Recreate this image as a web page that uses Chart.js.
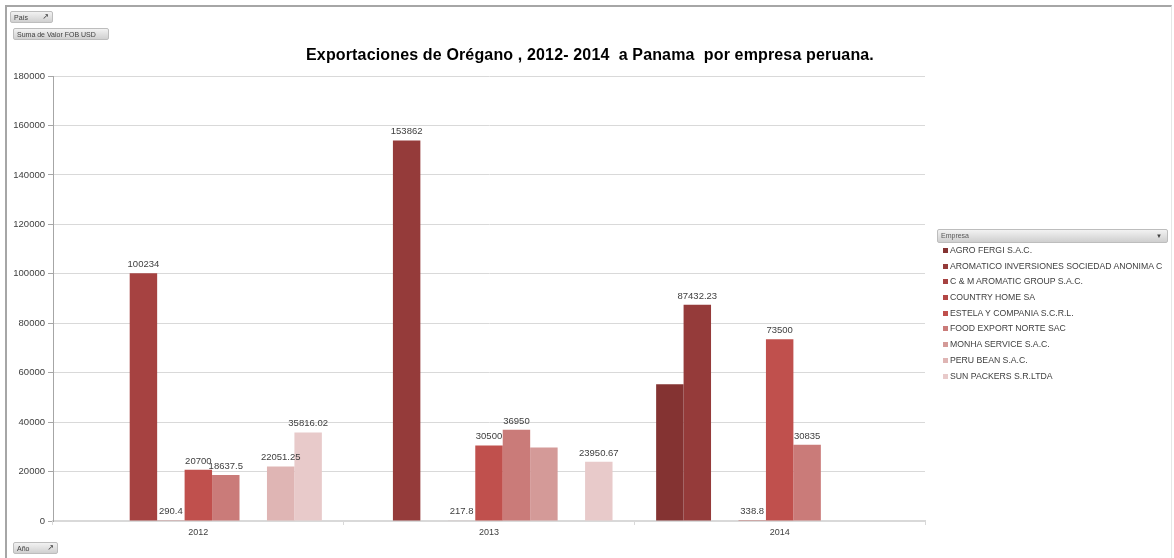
<!DOCTYPE html>
<html lang="es">
<head>
<meta charset="UTF-8">
<title>Exportaciones de Orégano</title>
<script src="https://cdn.jsdelivr.net/npm/chart.js@4"></script>
<style>
  html, body { margin: 0; padding: 0; background: #fff; }
  body { width: 1174px; height: 558px; position: relative; overflow: hidden; font-family: "Liberation Sans", "DejaVu Sans", sans-serif; }
  .frame { position: absolute; left: 5px; top: 5px; width: 1167px; height: 560px; border-left: 2px solid #a6a6a6; border-top: 2px solid #a6a6a6; border-right: 1px solid #e6e6e6; box-sizing: border-box; }
  #chart { position: absolute; left: 0; top: 0; }
  .title { position: absolute; left: 0; width: 1180px; top: 46px; text-align: center; font-weight: bold; font-size: 16px; letter-spacing: 0.15px; color: #000; white-space: pre; }
  .btn { position: absolute; height: 12px; line-height: 12px; font-size: 7px; color: #404040; border-radius: 2px;
         background: linear-gradient(#f2f2f2, #d0d0d0); border: 1px solid #bdbdbd; padding: 0 3px; box-sizing: border-box; }
  .btn .ico { position: absolute; right: 3px; top: -1px; font-size: 8px; }
  .legend { position: absolute; left: 937px; top: 229px; width: 231px; }
  .legend .head { position: relative; height: 12px; line-height: 12px; font-size: 7px; color: #595959; border-radius: 2px;
                  background: linear-gradient(#f2f2f2, #cfcfcf); border: 1px solid #bdbdbd; padding-left: 3px; }
  .legend .head .arr { position: absolute; right: 5px; top: 0; font-size: 6px; color: #404040; }
  .legend .item { position: relative; height: 15.7px; line-height: 15.7px; font-size: 8.7px; color: #404040; padding-left: 13px; white-space: nowrap; }
  .legend .item:first-of-type { margin-top: 3px; }
  .legend .sw { position: absolute; left: 6px; top: 5px; width: 5px; height: 5px; }
</style>
</head>
<body>
<div class="frame"></div>
<canvas id="chart" width="1174" height="558"></canvas>
<div class="title">Exportaciones de Orégano , 2012- 2014  a Panama  por empresa peruana.</div>
<div class="btn" style="left:10px;top:11px;width:43px;">País<span class="ico">&#8599;</span></div>
<div class="btn" style="left:13px;top:28px;width:96px;">Suma de Valor FOB USD</div>
<div class="btn" style="left:13px;top:542px;width:45px;">Año<span class="ico">&#8599;</span></div>
<div class="legend" id="legend"><div class="head">Empresa<span class="arr">&#9660;</span></div></div>

<script>
// Años (categorías)
const years = ['2012', '2013', '2014'];

// Empresas (series)
const companies = [
  'AGRO FERGI S.A.C.',
  'AROMATICO INVERSIONES SOCIEDAD ANONIMA C',
  'C & M AROMATIC GROUP S.A.C.',
  'COUNTRY HOME SA',
  'ESTELA Y COMPANIA S.C.R.L.',
  'FOOD EXPORT NORTE SAC',
  'MONHA SERVICE S.A.C.',
  'PERU BEAN S.A.C.',
  'SUN PACKERS S.R.LTDA'
];

// Suma de Valor FOB USD por empresa, en el orden de years
const agroFergi   = [null, null, 55300];
const aromatico   = [null, 153862, 87432.23];
const cmAromatic  = [100234, null, null];
const countryHome = [290.4, 217.8, 338.8];
const estela      = [20700, 30500, 73500];
const foodExport  = [18637.5, 36950, 30835];
const monha       = [null, 29700, null];
const peruBean    = [22051.25, null, null];
const sunPackers  = [35816.02, 23950.67, null];

// Etiquetas de datos que el original no muestra
const hiddenLabels = [[0, 2], [6, 1]]; // [serie, año]

const seriesValues = [agroFergi, aromatico, cmAromatic, countryHome, estela, foodExport, monha, peruBean, sunPackers];

const colors = ['#843332', '#953b3a', '#a64241', '#b34745', '#c0504d', '#ca7b79', '#d49a98', '#dfb5b4', '#e8caca'];

// y-axis ticks
const yMax = 180000;
const yStep = 20000;

// build legend
const legendEl = document.getElementById('legend');
companies.forEach((name, i) => {
  const d = document.createElement('div');
  d.className = 'item';
  d.innerHTML = '<span class="sw" style="background:' + colors[i] + '"></span>' + name.replace(/&/g, '&amp;');
  legendEl.appendChild(d);
});

const isHidden = (ds, idx) => hiddenLabels.some(h => h[0] === ds && h[1] === idx);

// simple data label plugin
const barLabels = {
  id: 'barLabels',
  afterDatasetsDraw(chart) {
    const ctx = chart.ctx;
    ctx.save();
    ctx.font = '9.5px "Liberation Sans", sans-serif';
    ctx.fillStyle = '#404040';
    ctx.textAlign = 'center';
    ctx.textBaseline = 'bottom';
    chart.data.datasets.forEach((ds, di) => {
      const meta = chart.getDatasetMeta(di);
      meta.data.forEach((bar, i) => {
        const v = ds.data[i];
        if (v === null || v === undefined || isHidden(di, i)) return;
        ctx.fillText(String(v), bar.x, bar.y - 4);
      });
    });
    ctx.restore();
  }
};

new Chart(document.getElementById('chart'), {
  type: 'bar',
  data: {
    labels: years,
    datasets: companies.map((name, i) => ({
      label: name,
      data: seriesValues[i],
      backgroundColor: colors[i],
      borderWidth: 0,
      categoryPercentage: 0.85,
      barPercentage: 1.0,
      skipNull: false
    }))
  },
  options: {
    responsive: false,
    animation: false,
    layout: { padding: { left: 0, top: 76, right: 249, bottom: 0 } },
    plugins: {
      legend: { display: false },
      tooltip: { enabled: false },
      title: { display: false }
    },
    scales: {
      x: {
        offset: true,
        grid: { offset: true, drawOnChartArea: false, drawTicks: true, tickLength: 4, color: '#d9d9d9' },
        border: { color: '#d9d9d9', width: 2 },
        ticks: { color: '#404040', font: { size: 9, family: '"Liberation Sans", sans-serif' }, padding: 2 },
        afterFit(scale) { scale.height = 37; }
      },
      y: {
        min: 0,
        max: yMax,
        grid: { color: '#d9d9d9', lineWidth: 1, drawTicks: true, tickLength: 5, tickColor: '#a6a6a6' },
        border: { color: '#a6a6a6', width: 1 },
        ticks: {
          stepSize: yStep,
          color: '#404040',
          font: { size: 9.5, family: '"Liberation Sans", sans-serif' },
          padding: 3,
          callback: (v) => String(v)
        },
        afterFit(scale) { scale.width = 53; }
      }
    }
  },
  plugins: [barLabels]
});
</script>
</body>
</html>
